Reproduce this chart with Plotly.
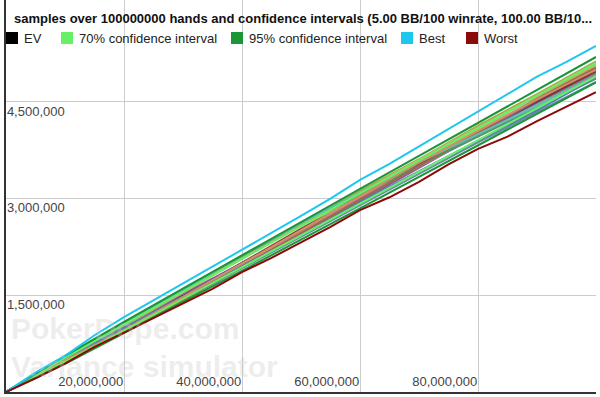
import plotly.graph_objects as go

# ---------------- data ----------------
hands = [0, 10e6, 20e6, 30e6, 40e6, 50e6, 60e6, 70e6, 80e6, 90e6, 100e6]
hands_fine = [0, 5e6, 10e6, 15e6, 20e6, 25e6, 30e6, 35e6, 40e6, 45e6, 50e6,
              55e6, 60e6, 65e6, 70e6, 75e6, 80e6, 85e6, 90e6, 95e6, 100e6]

ev = [0, 500000, 1000000, 1500000, 2000000, 2500000, 3000000, 3500000, 4000000, 4500000, 5000000]
ci70_hi = [0, 533000, 1047000, 1557000, 2066000, 2574000, 3081000, 3587000, 4093000, 4599000, 5104000]
ci70_lo = [0, 467000, 953000, 1443000, 1934000, 2426000, 2919000, 3413000, 3907000, 4401000, 4896000]
ci95_hi = [0, 562000, 1088000, 1607000, 2124000, 2639000, 3152000, 3664000, 4175000, 4686000, 5196000]
ci95_lo = [0, 438000, 912000, 1393000, 1876000, 2361000, 2848000, 3336000, 3825000, 4314000, 4804000]
best = [0, 300000, 560000, 880000, 1160000, 1420000, 1690000, 1950000, 2200000, 2470000, 2730000,
        3000000, 3290000, 3540000, 3810000, 4080000, 4360000, 4620000, 4890000, 5120000, 5370000]
worst = [0, 210000, 440000, 700000, 920000, 1150000, 1380000, 1600000, 1860000, 2080000, 2320000,
         2560000, 2820000, 3020000, 3260000, 3530000, 3770000, 3960000, 4200000, 4430000, 4650000]

samples = {
    "s1": [0, 520000, 1040000, 1560000, 2090000, 2590000, 3070000, 3530000, 4010000, 4480000, 4940000],
    "s2": [0, 510000, 1050000, 1570000, 2090000, 2600000, 3120000, 3610000, 4130000, 4620000, 5130000],
    "s3": [0, 490000, 970000, 1480000, 2010000, 2530000, 3050000, 3540000, 4020000, 4500000, 4970000],
    "s4": [0, 480000, 990000, 1520000, 2000000, 2470000, 2960000, 3480000, 3990000, 4530000, 5020000],
    "s5": [0, 530000, 1060000, 1550000, 2080000, 2570000, 3040000, 3560000, 4080000, 4590000, 5080000],
    "s6": [0, 470000, 940000, 1420000, 1920000, 2410000, 2900000, 3390000, 3870000, 4340000, 4810000],
    "s7": [0, 500000, 980000, 1460000, 1970000, 2490000, 3010000, 3500000, 3970000, 4450000, 4920000],
    "s8": [0, 540000, 1080000, 1600000, 2110000, 2600000, 3060000, 3510000, 3960000, 4410000, 4860000],
    "s9": [0, 490000, 1020000, 1540000, 2070000, 2590000, 3090000, 3610000, 4110000, 4580000, 5060000],
    "s10": [0, 520000, 1000000, 1480000, 1950000, 2440000, 2950000, 3420000, 3890000, 4370000, 4880000],
    "s11": [0, 480000, 950000, 1430000, 1940000, 2460000, 2980000, 3510000, 4030000, 4550000, 5030000],
    "s12": [0, 520000, 1050000, 1580000, 2120000, 2620000, 3090000, 3560000, 4000000, 4440000, 4900000],
    "s13": [0, 490000, 960000, 1470000, 1990000, 2510000, 3040000, 3560000, 4050000, 4540000, 5000000],
}
sample_colors = ["#3aa59a", "#a8a848", "#8b3040", "#8a5a9a", "#9ad07a", "#6a8aa8",
                 "#c87890", "#4a9a70", "#c0b060", "#5a7ab0", "#9a6a4a", "#60c0b0", "#d09060"]

x_ticks = [20e6, 40e6, 60e6, 80e6]
x_labels = ["20,000,000", "40,000,000", "60,000,000", "80,000,000"]
y_ticks = [1.5e6, 3.0e6, 4.5e6]
y_labels = ["1,500,000", "3,000,000", "4,500,000"]

legend_names = ["EV", "70% confidence interval", "95% confidence interval", "Best", "Worst"]
legend_colors = ["#000000", "#66f066", "#1a9638", "#1fc6ee", "#8b0a0a"]

title = "samples over 100000000 hands and confidence intervals (5.00 BB/100 winrate, 100.00 BB/10..."

# ---------------- figure ----------------
W, H = 600, 397
ML, MR, MT, MB = 6, 4, 0, 5
PW, PH = W - ML - MR, H - MT - MB


def px(x):
    return (x - ML) / PW


def py(y):
    return (H - MB - y) / PH


fig = go.Figure()
fig.add_trace(go.Scatter(x=hands, y=ev, mode="lines", line=dict(color=legend_colors[0], width=1.5), showlegend=False))
for (name, vals), col in zip(samples.items(), sample_colors):
    fig.add_trace(go.Scatter(x=hands, y=vals, mode="lines", line=dict(color=col, width=2),
                             showlegend=False, hoverinfo="skip"))

fig.add_trace(go.Scatter(x=hands, y=ci70_hi, mode="lines", line=dict(color=legend_colors[1], width=2), showlegend=False))
fig.add_trace(go.Scatter(x=hands, y=ci70_lo, mode="lines", line=dict(color=legend_colors[1], width=2), showlegend=False))
fig.add_trace(go.Scatter(x=hands, y=ci95_hi, mode="lines", line=dict(color=legend_colors[2], width=2), showlegend=False))
fig.add_trace(go.Scatter(x=hands, y=ci95_lo, mode="lines", line=dict(color=legend_colors[2], width=2), showlegend=False))
fig.add_trace(go.Scatter(x=hands_fine, y=best, mode="lines", line=dict(color=legend_colors[3], width=2), showlegend=False))
fig.add_trace(go.Scatter(x=hands_fine, y=worst, mode="lines", line=dict(color=legend_colors[4], width=2), showlegend=False))

font = "Arial, Liberation Sans, sans-serif"
wm = dict(family=font, size=30, color="rgba(200,200,200,0.32)")
annotations = [
    dict(text="<b>PokerDope.com</b>", x=px(9), y=py(328), xref="paper", yref="paper", xanchor="left",
         yanchor="middle", showarrow=False, font=wm),
    dict(text="<b>Variance simulator</b>", x=px(9), y=py(366), xref="paper", yref="paper", xanchor="left",
         yanchor="middle", showarrow=False, font=wm),
    dict(text="<b>" + title + "</b>", x=px(12), y=py(18), xref="paper", yref="paper", xanchor="left",
         yanchor="middle", showarrow=False, font=dict(family=font, size=13, color="#111")),
]
shapes = []
legend_sq_x = [6, 61, 231, 401, 466]
for name, col, sx in zip(legend_names, legend_colors, legend_sq_x):
    shapes.append(dict(type="rect", xref="paper", yref="paper", x0=px(sx), x1=px(sx + 12),
                       y0=py(44), y1=py(32), fillcolor=col, line=dict(width=0)))
    annotations.append(dict(text=name, x=px(sx + 16), y=py(38), xref="paper", yref="paper",
                            xanchor="left", yanchor="middle", showarrow=False,
                            font=dict(family=font, size=13, color="#222")))

fig.update_layout(
    width=W, height=H, margin=dict(l=ML, r=MR, t=MT, b=MB),
    paper_bgcolor="white", plot_bgcolor="white",
    showlegend=False, annotations=annotations, shapes=shapes,
    font=dict(family=font, size=13, color="#444"),
    xaxis=dict(range=[0, 100e6], tickvals=x_ticks, ticktext=x_labels, ticklabelposition="inside left",
               showgrid=True, gridcolor="#cccccc", gridwidth=1, zeroline=False, showline=True,
               linecolor="#333", linewidth=1.5, ticks="", tickfont=dict(size=13, color="#444")),
    yaxis=dict(range=[0, 6.08e6], tickvals=y_ticks, ticktext=y_labels, ticklabelposition="inside bottom",
               showgrid=True, gridcolor="#cccccc", gridwidth=1, zeroline=False, showline=True,
               linecolor="#333", linewidth=1.5, ticks="", tickfont=dict(size=13, color="#444")),
)

fig.write_html("out.html", config={"displayModeBar": False},
               post_script="document.body.style.margin='0';document.body.style.overflow='hidden';")
